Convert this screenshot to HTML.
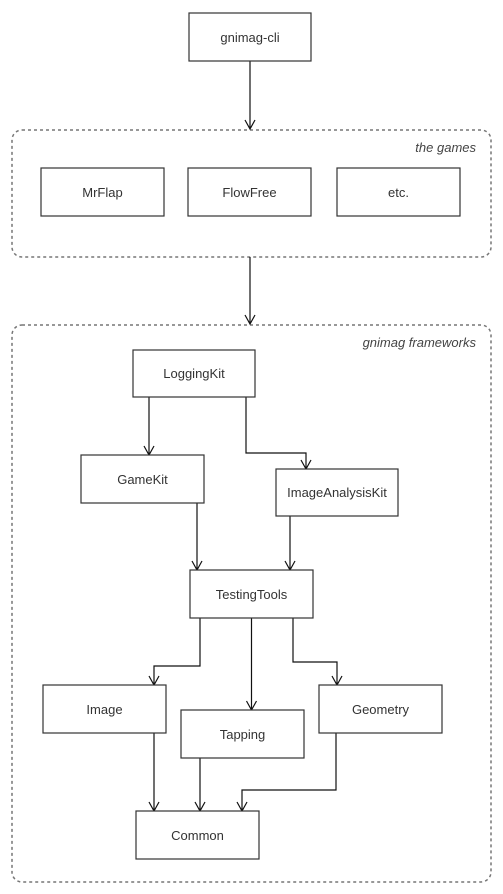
<!DOCTYPE html>
<html><head><meta charset="utf-8"><style>
html,body{margin:0;padding:0;background:#fff;}
svg{display:block;}
text{font-family:"Liberation Sans",sans-serif;font-size:13px;fill:#333;}
.b{fill:#fff;stroke:#333;stroke-width:1.2;}
.c{fill:none;stroke:#111;stroke-width:1.2;}
.g{fill:none;stroke:#777;stroke-width:1.5;stroke-dasharray:3,3;}
.i{font-style:italic;fill:#444;}
</style></head><body>
<svg width="503" height="894" viewBox="0 0 503 894" xmlns="http://www.w3.org/2000/svg">
<rect class="g" x="12" y="130" width="479" height="127" rx="10"/>
<rect class="g" x="12" y="325" width="479" height="557" rx="10"/>
<text class="i" x="476" y="152" text-anchor="end">the games</text>
<text class="i" x="476" y="347" text-anchor="end">gnimag frameworks</text>

<g class="c">
<path d="M250 61V129M245 120l5 9 5-9"/>
<path d="M250 257V324M245 315l5 9 5-9"/>
<path d="M149 397V455M144 446l5 9 5-9"/>
<path d="M246 397V453H306V469M301 460l5 9 5-9"/>
<path d="M197 503V570M192 561l5 9 5-9"/>
<path d="M290 516V570M285 561l5 9 5-9"/>
<path d="M200 618V666H154V685M149 676l5 9 5-9"/>
<path d="M251.5 618V710M246.5 701l5 9 5-9"/>
<path d="M293 618V662H337V685M332 676l5 9 5-9"/>
<path d="M154 733V811M149 802l5 9 5-9"/>
<path d="M200 758V811M195 802l5 9 5-9"/>
<path d="M336 733V790H242V811M237 802l5 9 5-9"/>
</g>

<g>
<rect class="b" x="189" y="13" width="122" height="48"/><text x="250" y="42" text-anchor="middle">gnimag-cli</text>
<rect class="b" x="41" y="168" width="123" height="48"/><text x="102.5" y="197" text-anchor="middle">MrFlap</text>
<rect class="b" x="188" y="168" width="123" height="48"/><text x="249.5" y="197" text-anchor="middle">FlowFree</text>
<rect class="b" x="337" y="168" width="123" height="48"/><text x="398.5" y="197" text-anchor="middle">etc.</text>
<rect class="b" x="133" y="350" width="122" height="47"/><text x="194" y="378" text-anchor="middle">LoggingKit</text>
<rect class="b" x="81" y="455" width="123" height="48"/><text x="142.5" y="484" text-anchor="middle">GameKit</text>
<rect class="b" x="276" y="469" width="122" height="47"/><text x="337" y="497" text-anchor="middle">ImageAnalysisKit</text>
<rect class="b" x="190" y="570" width="123" height="48"/><text x="251.5" y="599" text-anchor="middle">TestingTools</text>
<rect class="b" x="43" y="685" width="123" height="48"/><text x="104.5" y="714" text-anchor="middle">Image</text>
<rect class="b" x="181" y="710" width="123" height="48"/><text x="242.5" y="739" text-anchor="middle">Tapping</text>
<rect class="b" x="319" y="685" width="123" height="48"/><text x="380.5" y="714" text-anchor="middle">Geometry</text>
<rect class="b" x="136" y="811" width="123" height="48"/><text x="197.5" y="840" text-anchor="middle">Common</text>
</g>
</svg>
</body></html>
